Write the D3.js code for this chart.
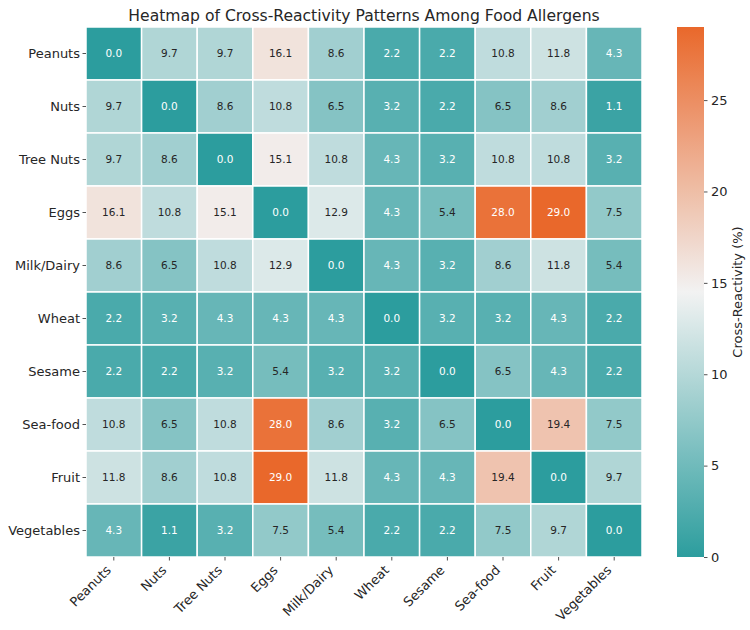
<!DOCTYPE html>
<html>
<head>
<meta charset="utf-8">
<script src="https://cdn.jsdelivr.net/npm/d3@7"></script>
<style>
  html, body { margin: 0; padding: 0; background: #fff; }
  text { font-family: "DejaVu Sans", sans-serif; }
</style>
</head>
<body>
<svg id="chart" width="750" height="630"></svg>
<script>
const categories = ["Peanuts", "Nuts", "Tree Nuts", "Eggs", "Milk/Dairy", "Wheat", "Sesame", "Sea-food", "Fruit", "Vegetables"];
const rowPeanuts    = [0.0, 9.7, 9.7, 16.1, 8.6, 2.2, 2.2, 10.8, 11.8, 4.3];
const rowNuts       = [9.7, 0.0, 8.6, 10.8, 6.5, 3.2, 2.2, 6.5, 8.6, 1.1];
const rowTreeNuts   = [9.7, 8.6, 0.0, 15.1, 10.8, 4.3, 3.2, 10.8, 10.8, 3.2];
const rowEggs       = [16.1, 10.8, 15.1, 0.0, 12.9, 4.3, 5.4, 28.0, 29.0, 7.5];
const rowMilk       = [8.6, 6.5, 10.8, 12.9, 0.0, 4.3, 3.2, 8.6, 11.8, 5.4];
const rowWheat      = [2.2, 3.2, 4.3, 4.3, 4.3, 0.0, 3.2, 3.2, 4.3, 2.2];
const rowSesame     = [2.2, 2.2, 3.2, 5.4, 3.2, 3.2, 0.0, 6.5, 4.3, 2.2];
const rowSeafood    = [10.8, 6.5, 10.8, 28.0, 8.6, 3.2, 6.5, 0.0, 19.4, 7.5];
const rowFruit      = [11.8, 8.6, 10.8, 29.0, 11.8, 4.3, 4.3, 19.4, 0.0, 9.7];
const rowVegetables = [4.3, 1.1, 3.2, 7.5, 5.4, 2.2, 2.2, 7.5, 9.7, 0.0];
const colorbarTicks = [0, 5, 10, 15, 20, 25];
const title = "Heatmap of Cross-Reactivity Patterns Among Food Allergens";
const colorbarLabel = "Cross-Reactivity (%)";

const matrix = [rowPeanuts, rowNuts, rowTreeNuts, rowEggs, rowMilk, rowWheat, rowSesame, rowSeafood, rowFruit, rowVegetables];
const cells = [];
matrix.forEach((row, i) => row.forEach((v, j) => cells.push({row: categories[i], col: categories[j], v})));

const svg = d3.select("#chart");
const L = 86, R = 642, T = 27, B = 557;
const x = d3.scaleBand().domain(categories).range([L, R]);
const y = d3.scaleBand().domain(categories).range([T, B]);

const vmin = 0, vmax = d3.max(cells, d => d.v);
const color = d3.scaleLinear()
  .domain([vmin, (vmin + vmax) / 2, vmax])
  .range(["#2c9d9e", "#f2f2f2", "#e9682b"])
  .interpolate(d3.interpolateRgb);

function lum(c) {
  const rgb = d3.rgb(c);
  const f = u => { u /= 255; return u <= 0.03928 ? u / 12.92 : Math.pow((u + 0.055) / 1.055, 2.4); };
  return 0.2126 * f(rgb.r) + 0.7152 * f(rgb.g) + 0.0722 * f(rgb.b);
}

svg.append("g").selectAll("rect").data(cells).join("rect")
  .attr("x", d => x(d.col)).attr("y", d => y(d.row))
  .attr("width", x.bandwidth()).attr("height", y.bandwidth())
  .attr("fill", d => color(d.v))
  .attr("stroke", "#ffffff").attr("stroke-width", 1.5);

svg.append("g").selectAll("text").data(cells).join("text")
  .attr("x", d => x(d.col) + x.bandwidth() / 2)
  .attr("y", d => y(d.row) + y.bandwidth() / 2)
  .attr("dy", "0.36em")
  .attr("text-anchor", "middle")
  .attr("font-size", "10.5px")
  .attr("fill", d => lum(color(d.v)) > 0.408 ? "#262626" : "#ffffff")
  .text(d => d.v.toFixed(1));

// Axes
const yAxis = svg.append("g").attr("transform", `translate(${L},0)`)
  .call(d3.axisLeft(y).tickSize(3.5).tickPadding(2.5));
const xAxis = svg.append("g").attr("transform", `translate(0,${B})`)
  .call(d3.axisBottom(x).tickSize(3.5).tickPadding(3.5));
[yAxis, xAxis].forEach(a => {
  a.select(".domain").remove();
  a.selectAll(".tick line").attr("stroke", "#262626").attr("stroke-width", 0.8);
  a.selectAll(".tick text").attr("fill", "#262626").attr("font-size", "13px")
    .attr("font-family", "DejaVu Sans, sans-serif");
});
xAxis.selectAll(".tick text")
  .attr("text-anchor", "end")
  .attr("x", 0).attr("y", 0)
  .attr("dy", "0")
  .attr("transform", "translate(-2,14) rotate(-45)");

// Title
svg.append("text").attr("x", (L + R) / 2).attr("y", 21)
  .attr("text-anchor", "middle").attr("font-size", "15.6px").attr("fill", "#262626")
  .text(title);

// Colorbar
const cbL = 677, cbW = 27;
const cy = d3.scaleLinear().domain([vmin, vmax]).range([B, T]);
const defs = svg.append("defs");
const grad = defs.append("linearGradient").attr("id", "cbgrad")
  .attr("x1", 0).attr("y1", 1).attr("x2", 0).attr("y2", 0);
d3.range(0, 1.0001, 0.05).forEach(t => {
  grad.append("stop").attr("offset", t).attr("stop-color", color(vmin + t * (vmax - vmin)));
});
svg.append("rect").attr("x", cbL).attr("y", T).attr("width", cbW).attr("height", B - T)
  .attr("fill", "url(#cbgrad)");
const cbAxis = svg.append("g").attr("transform", `translate(${cbL + cbW},0)`)
  .call(d3.axisRight(cy).tickValues(colorbarTicks).tickSize(3.5).tickPadding(3.5).tickFormat(d3.format("d")));
cbAxis.select(".domain").remove();
cbAxis.selectAll(".tick line").attr("stroke", "#262626").attr("stroke-width", 0.8);
cbAxis.selectAll(".tick text").attr("fill", "#262626").attr("font-size", "13px")
  .attr("font-family", "DejaVu Sans, sans-serif");
svg.append("text")
  .attr("transform", `translate(742,${(T + B) / 2}) rotate(-90)`)
  .attr("text-anchor", "middle").attr("font-size", "13px").attr("fill", "#262626")
  .text(colorbarLabel);
</script>
</body>
</html>
